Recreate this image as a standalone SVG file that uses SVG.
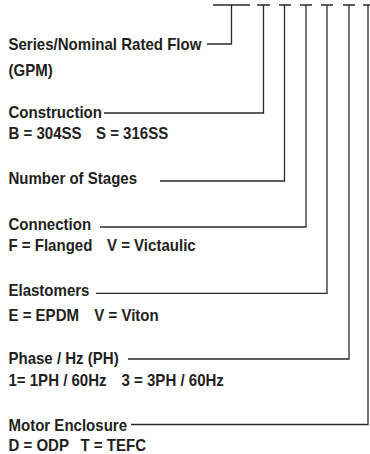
<svg xmlns="http://www.w3.org/2000/svg" width="370" height="454" viewBox="0 0 370 454">
<style>
.t{font-family:"Liberation Sans",Arial,sans-serif;font-weight:bold;font-size:16px;fill:#231f20}
.c{fill:none;stroke:#2b2b2b;stroke-width:1.3}
</style>
<rect width="370" height="454" fill="#fff"/>
<g id="connectors">
<path class="c" d="M213 5H250M231.5 5V44H207"/>
<path class="c" d="M257 5H270M263.5 5V113H104"/>
<path class="c" d="M279 5H291M284.5 5V181H160"/>
<path class="c" d="M300 5H312M306 5V227H100"/>
<path class="c" d="M321 5H333M327 5V293.3H96"/>
<path class="c" d="M343 5H355M349 5V359H128"/>
<path class="c" d="M363 5H372M368 5V424.5H131"/>
</g>
<g transform="scale(0.94 1)">
<g id="series"><text class="t" x="9" y="50.5">Series/Nominal Rated Flow</text><text class="t" x="9" y="76">(GPM)</text></g>
<g id="construction"><text class="t" x="9" y="118.5">Construction</text><text class="t" x="9" y="139.5">B = 304SS</text><text class="t" x="102.1" y="139.5">S = 316SS</text></g>
<g id="stages"><text class="t" x="9" y="184.5">Number of Stages</text></g>
<g id="connection"><text class="t" x="9" y="230">Connection</text><text class="t" x="9" y="251.5">F = Flanged</text><text class="t" x="113.8" y="251.5">V = Victaulic</text></g>
<g id="elastomers"><text class="t" x="9" y="296.5">Elastomers</text><text class="t" x="9" y="321">E = EPDM</text><text class="t" x="100.3" y="321">V = Viton</text></g>
<g id="phase"><text class="t" x="9" y="364.5">Phase / Hz (PH)</text><text class="t" x="9" y="386.5">1= 1PH / 60Hz</text><text class="t" x="129.3" y="386.5">3 = 3PH / 60Hz</text></g>
<g id="motor"><text class="t" x="9" y="431.5">Motor Enclosure</text><text class="t" x="9" y="451.5">D = ODP</text><text class="t" x="85.6" y="451.5">T = TEFC</text></g>
</g>
</svg>
